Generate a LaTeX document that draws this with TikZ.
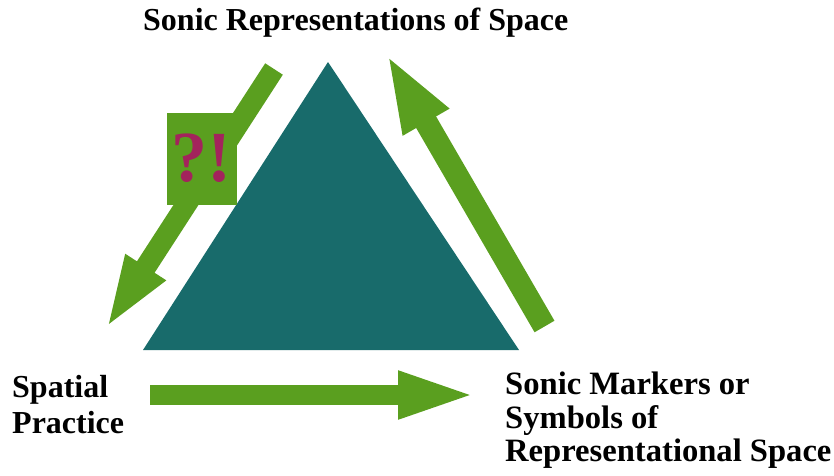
\documentclass[tikz,border=0pt]{standalone}
\usepackage{fontspec}
\setmainfont{Liberation Serif}
\usetikzlibrary{arrows.meta}
\definecolor{teal1}{HTML}{186B6B}
\definecolor{green1}{HTML}{5A9F1F}
\definecolor{crim}{HTML}{A3235C}
\tikzset{
  label/.style={font=\fontsize{32}{35}\selectfont\bfseries, inner sep=0pt, align=left},
  blockarrow/.style={green1, line width=#1, line cap=butt},
}
\begin{document}
\begin{tikzpicture}[x=1pt,y=-1pt]
\useasboundingbox (0,0) rectangle (834,475);
% triangle
\fill[teal1] (328,62) coordinate (apex) -- (143,350) coordinate (bl) -- (519,350) coordinate (br) -- cycle;
% coordinates for arrows
\coordinate (dlTail) at (274,69);
\coordinate (dlTip) at (105,330);
\coordinate (urTail) at (544.5,326.5);
\coordinate (urTip) at (386,53);
\coordinate (hTail) at (150,395);
\coordinate (hTip) at (479,395);
% arrows
\draw[blockarrow=21pt, -{Triangle[width=42pt,length=75pt]}] (dlTail) -- (dlTip);
\draw[blockarrow=23pt, -{Triangle[width=47pt,length=80pt]}] (urTail) -- (urTip);
\draw[blockarrow=20pt, -{Triangle[width=42pt,length=81pt]}] (hTail) -- (hTip);
% ?! box
\node[fill=green1, minimum width=70pt, minimum height=92pt, inner sep=0pt] (qbox) at (202,159) {};
\node[font=\fontsize{72}{72}\selectfont\bfseries, text=crim, inner sep=0pt, anchor=base] (qtext) at (201,181) {?!};
% labels
\node[label, anchor=north west] (top) at (143,8) {Sonic Representations of Space};
\node[label, font=\fontsize{32}{36.5}\selectfont\bfseries, anchor=north west] (sp) at (12,375) {Spatial\\Practice};
\node[label, font=\fontsize{32.6}{33.5}\selectfont\bfseries, anchor=north west] (sm) at (505,372) {Sonic Markers or\\Symbols of\\Representational Space};
\end{tikzpicture}
\end{document}
